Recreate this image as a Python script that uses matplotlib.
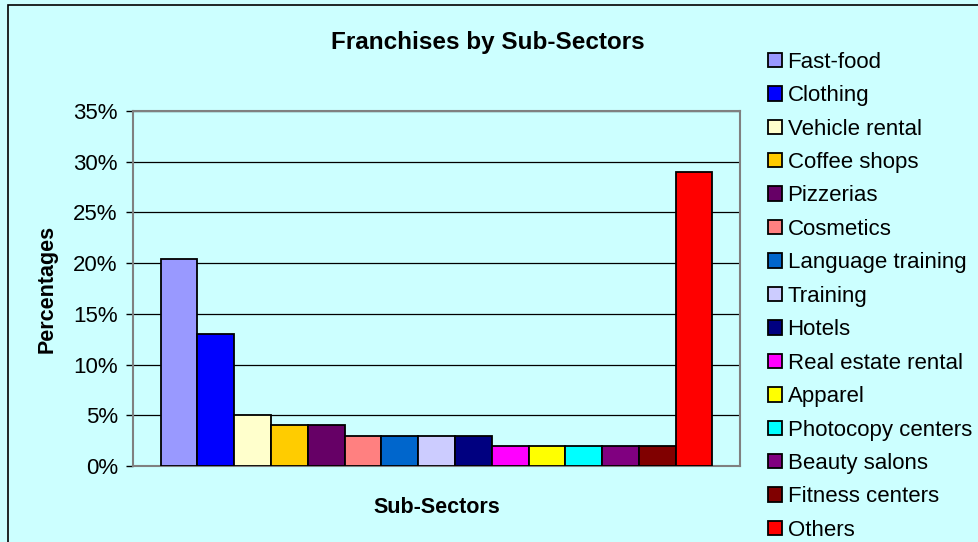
import numpy as np
import matplotlib.pyplot as plt
from matplotlib.patches import Rectangle
from matplotlib.ticker import PercentFormatter

plt.rcParams['font.family'] = ['Liberation Sans', 'DejaVu Sans']

sectors = ["Fast-food", "Clothing", "Vehicle rental", "Coffee shops", "Pizzerias",
           "Cosmetics", "Language training", "Training", "Hotels", "Real estate rental",
           "Apparel", "Photocopy centers", "Beauty salons", "Fitness centers", "Others"]
shares = [20.4, 13, 5, 4, 4, 3, 3, 3, 3, 2, 2, 2, 2, 2, 29]
colors = ["#9999FF", "#0000FF", "#FFFFCC", "#FFCC00", "#660066",
          "#FF8080", "#0066CC", "#CCCCFF", "#000080", "#FF00FF",
          "#FFFF00", "#00FFFF", "#800080", "#800000", "#FF0000"]

bg = "#CCFFFF"


def main():
    fig = plt.figure(figsize=(9.79, 5.42), dpi=100, facecolor=bg)
    ax = fig.add_axes([0.1359, 0.1402, 0.62, 0.655], facecolor=bg)

    n = len(shares)
    group = 1 / 1.1
    w = group / n
    for i in range(n):
        x = -group / 2 + w * (i + 0.5)
        ax.bar(x, shares[i], width=w, color=colors[i], edgecolor="black",
               linewidth=1.3, label=sectors[i], zorder=3)

    ax.set_xlim(-0.5, 0.5)
    ax.set_ylim(0, 35)
    ax.set_yticks(np.arange(0, 36, 5))
    ax.yaxis.set_major_formatter(PercentFormatter(decimals=0))
    ax.set_xticks([])
    ax.grid(axis="y", color="black", linewidth=0.9, zorder=1)
    for s in ax.spines.values():
        s.set_color("#808080")
        s.set_linewidth(1.5)
    ax.tick_params(axis="y", labelsize=16, length=5, width=1, color="black", pad=6)

    ax.set_ylabel("Percentages", fontsize=15.5, fontweight="bold", labelpad=11)
    ax.set_xlabel("Sub-Sectors", fontsize=15.5, fontweight="bold", labelpad=22)
    fig.text(0.498, 0.922, "Franchises by Sub-Sectors", ha="center", va="center",
             fontsize=17.5, fontweight="bold")

    fig.legend(loc="upper left", bbox_to_anchor=(0.775, 0.921), frameon=False,
               fontsize=16, handlelength=0.63, handleheight=0.63,
               handletextpad=0.27, labelspacing=0.56, borderaxespad=0)

    fig.patches.append(Rectangle((8 / 979, -0.1), 1.2, 1.1 - 5 / 542,
                                 transform=fig.transFigure, fill=False,
                                 edgecolor="black", linewidth=1.2))

    fig.savefig("out.png", dpi=100, facecolor=bg)


if __name__ == '__main__':
    main()
